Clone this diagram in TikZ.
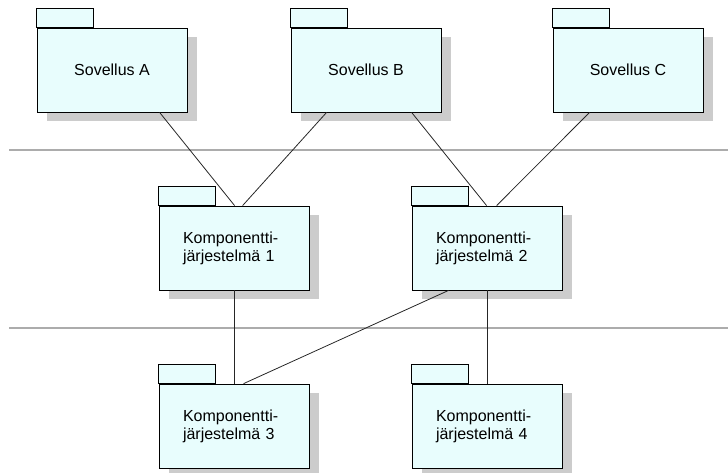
\documentclass[tikz,border=0pt]{standalone}
\usepackage{fontspec}
\setmainfont{Liberation Sans}
\usetikzlibrary{shadows}
\definecolor{pkgfill}{RGB}{232,253,253}
\definecolor{pkgshadow}{RGB}{204,204,204}
\definecolor{sepline}{RGB}{172,172,172}
\tikzset{
  pkg/.style={draw=black, line width=0.8pt, fill=pkgfill,
    minimum width=150pt, minimum height=84pt, inner sep=0pt,
    font=\fontsize{16}{18}\selectfont,
    drop shadow={shadow xshift=10pt, shadow yshift=-9pt,
      fill=pkgshadow, opacity=1, draw=none}},
  sov/.style={pkg, align=center},
  komp/.style={pkg, text width=102pt, inner xsep=24pt, align=left},
  pkgtab/.style={draw=black, line width=0.8pt, fill=pkgfill},
  link/.style={draw=black!85, line width=0.8pt},
  sep/.style={draw=sepline, line width=2pt}
}
% draw the small tab on top of a package body
\newcommand{\pkgtabfor}[1]{\draw[pkgtab] (#1.north west) rectangle ++(57,-19);}
\begin{document}
\begin{tikzpicture}[x=1pt, y=-1pt]
  \useasboundingbox (0,0) rectangle (728,472);

  % layer separators
  \coordinate (s1l) at (9,150);  \coordinate (s1r) at (728,150);
  \coordinate (s2l) at (9,328);  \coordinate (s2r) at (728,328);
  \draw[sep] (s1l) -- (s1r);
  \draw[sep] (s2l) -- (s2r);

  % applications
  \node[sov] (a) at (112,70) {Sovellus A};
  \node[sov] (b) at (366,70) {Sovellus B};
  \node[sov] (c) at (628,70) {Sovellus C};
  % component systems
  \node[komp] (k1) at (234,248) {Komponentti-\\järjestelmä 1};
  \node[komp] (k2) at (487,248) {Komponentti-\\järjestelmä 2};
  \node[komp] (k3) at (234,426) {Komponentti-\\järjestelmä 3};
  \node[komp] (k4) at (487,426) {Komponentti-\\järjestelmä 4};

  \foreach \n in {a,b,c,k1,k2,k3,k4} { \pkgtabfor{\n} }

  % dependencies
  \draw[link] ([xshift=123pt]a.south west) -- ([xshift=76pt]k1.north west);
  \draw[link] ([xshift=36pt]b.south west)  -- ([xshift=84pt]k1.north west);
  \draw[link] ([xshift=121pt]b.south west) -- ([xshift=75pt]k2.north west);
  \draw[link] ([xshift=37pt]c.south west)  -- ([xshift=85pt]k2.north west);
  \draw[link] (k1.south) -- (k3.north);
  \draw[link] ([xshift=37pt]k2.south west) -- ([xshift=85pt]k3.north west);
  \draw[link] (k2.south) -- (k4.north);
\end{tikzpicture}
\end{document}
